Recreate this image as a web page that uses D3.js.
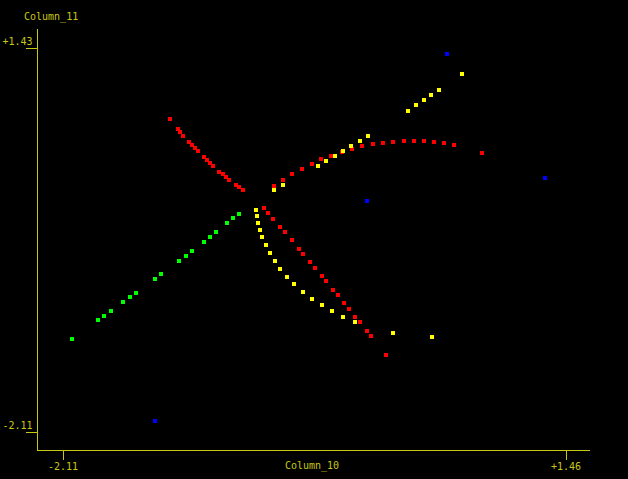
<!DOCTYPE html>
<html><head><meta charset="utf-8">
<script src="https://cdn.jsdelivr.net/npm/d3@7"></script>
<style>
html,body{margin:0;padding:0;background:#000;}
svg{display:block;}
</style>
</head><body>
<script>
const xLabel = "Column_10";
const yLabel = "Column_11";
const xTicks = [-2.11, 1.46];
const yTicks = [-2.11, 1.43];

const redX = [-1.347,-1.290,-1.276,-1.255,-1.212,-1.191,-1.170,-1.148,-1.106,-1.084,-1.063,-1.042,-0.999,-0.971,-0.950,-0.928,-0.879,-0.857,-0.829,
  -0.611,-0.545,-0.481,-0.410,-0.339,-0.275,-0.204,-0.126,-0.055,0.016,0.094,0.165,0.236,0.314,0.385,0.456,0.527,0.598,0.669,0.867,
  -0.680,-0.651,-0.616,-0.566,-0.531,-0.481,-0.431,-0.403,-0.353,-0.318,-0.268,-0.240,-0.190,-0.155,-0.112,-0.077,-0.034,0.001,0.051,0.080,0.186];
const redY = [0.771,0.679,0.651,0.617,0.559,0.531,0.504,0.476,0.421,0.393,0.365,0.338,0.282,0.267,0.236,0.209,0.162,0.144,0.116,
  0.153,0.209,0.264,0.310,0.356,0.402,0.430,0.467,0.494,0.522,0.540,0.550,0.559,0.568,0.568,0.568,0.559,0.550,0.531,0.457,
  -0.050,-0.096,-0.151,-0.225,-0.271,-0.345,-0.428,-0.474,-0.547,-0.603,-0.677,-0.723,-0.806,-0.852,-0.925,-0.981,-1.054,-1.101,-1.184,-1.230,-1.405];

const yellowX = [-0.611,-0.545,-0.297,-0.240,-0.176,-0.119,-0.062,0.001,0.058,0.342,0.399,0.456,0.505,0.562,0.725,
  -0.737,-0.730,-0.722,-0.708,-0.694,-0.666,-0.637,-0.602,-0.566,-0.517,-0.467,-0.403,-0.339,-0.268,-0.197,-0.119,-0.034,0.236,0.513];
const yellowY = [0.116,0.162,0.338,0.384,0.430,0.476,0.522,0.568,0.614,0.845,0.900,0.946,0.992,1.038,1.186,
  -0.068,-0.123,-0.188,-0.252,-0.317,-0.391,-0.464,-0.538,-0.612,-0.686,-0.750,-0.824,-0.889,-0.944,-0.999,-1.054,-1.101,-1.202,-1.239];

const greenX = [-0.857,-0.900,-0.942,-1.021,-1.063,-1.106,-1.191,-1.233,-1.283,-1.411,-1.453,-1.588,-1.631,-1.681,-1.766,-1.815,-1.858,-2.043];
const greenY = [-0.105,-0.142,-0.188,-0.271,-0.317,-0.363,-0.446,-0.492,-0.538,-0.658,-0.704,-0.833,-0.870,-0.916,-0.999,-1.045,-1.082,-1.257];

const blueX = [0.619,1.315,0.051,-1.453];
const blueY = [1.370,0.227,0.015,-2.013];

const W = 628, H = 479;
const axisColor = "#c8c814";
const font = "'DejaVu Sans Mono', monospace";

const svg = d3.select("body").append("svg").attr("width", W).attr("height", H)
  .style("background", "#000");

const x = d3.scaleLinear().domain([-2.11, 1.46]).range([62.5, 565.5]);
const y = d3.scaleLinear().domain([-2.11, 1.43]).range([431.5, 47.5]);
const axX = 37.5, axY = 450.5;

const fmt = d => (d > 0 ? "+" : "") + d.toFixed(2);

svg.append("line").attr("x1", axX).attr("x2", axX).attr("y1", 29).attr("y2", axY)
  .attr("stroke", axisColor).attr("stroke-width", 1).attr("shape-rendering", "crispEdges");
svg.append("line").attr("x1", axX).attr("x2", 590).attr("y1", axY).attr("y2", axY)
  .attr("stroke", axisColor).attr("stroke-width", 1).attr("shape-rendering", "crispEdges");

const gy = svg.append("g").attr("transform", `translate(${axX},0)`)
  .call(d3.axisLeft(y).tickValues(yTicks).tickSize(12).tickFormat(fmt));
gy.select(".domain").remove();
gy.selectAll(".tick line").attr("stroke", axisColor).attr("shape-rendering", "crispEdges");
gy.selectAll(".tick text").attr("fill", axisColor).attr("x", -5).attr("dy", -3)
  .style("font-family", font).style("font-size", "10px");

const gx = svg.append("g").attr("transform", `translate(0,${axY})`)
  .call(d3.axisBottom(x).tickValues(xTicks).tickSize(9).tickFormat(fmt));
gx.select(".domain").remove();
gx.selectAll(".tick line").attr("stroke", axisColor).attr("shape-rendering", "crispEdges");
gx.selectAll(".tick text").attr("fill", axisColor).attr("y", 12)
  .style("font-family", font).style("font-size", "10px");

svg.append("text").text(yLabel).attr("x", 24).attr("y", 20)
  .attr("fill", axisColor).style("font-family", font).style("font-size", "10px");
svg.append("text").text(xLabel).attr("x", 312).attr("y", 469).attr("text-anchor", "middle")
  .attr("fill", axisColor).style("font-family", font).style("font-size", "10px");

const series = [
  {xs: redX, ys: redY, color: "#ff0000"},
  {xs: yellowX, ys: yellowY, color: "#ffff00"},
  {xs: greenX, ys: greenY, color: "#00ff00"},
  {xs: blueX, ys: blueY, color: "#0000ff"}
];
const s = 4;
series.forEach(ser => {
  svg.append("g").selectAll("rect").data(ser.xs.map((v, i) => [v, ser.ys[i]]))
    .join("rect")
    .attr("x", d => Math.round(x(d[0]) - s / 2))
    .attr("y", d => Math.round(y(d[1]) - s / 2))
    .attr("width", s).attr("height", s)
    .attr("fill", ser.color)
    .attr("shape-rendering", "crispEdges");
});
</script>
</body></html>
